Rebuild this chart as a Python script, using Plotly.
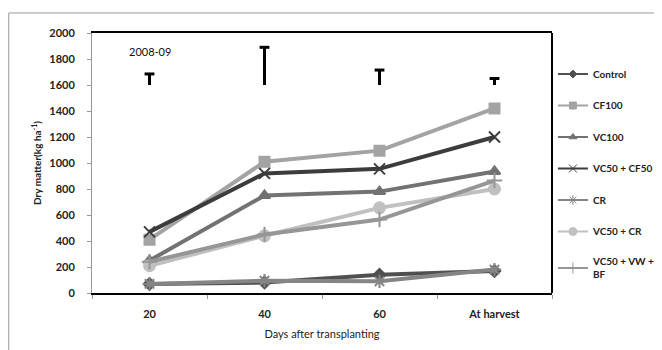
import plotly.graph_objects as go

categories = ["20", "40", "60", "At harvest"]

control = [70, 80, 140, 170]
cf100 = [410, 1010, 1095, 1420]
vc100 = [250, 750, 780, 935]
vc50_cf50 = [470, 920, 955, 1200]
cr = [70, 95, 90, 180]
vc50_cr = [210, 440, 655, 800]
vc50_vw_bf = [240, 450, 565, 865]

lsd_base = [1600, 1600, 1600, 1600]
lsd_len = [85, 290, 115, 50]

series = [
    ("Control", control, "#505050", "diamond", 9),
    ("CF100", cf100, "#a3a3a3", "square", 10),
    ("VC100", vc100, "#727272", "triangle-up", 10),
    ("VC50 + CF50", vc50_cf50, "#3c3c3c", "x-thin-open", 11),
    ("CR", cr, "#858585", "asterisk-open", 11),
    ("VC50 + CR", vc50_cr, "#c0c0c0", "circle", 11),
    ("VC50 + VW +<br>BF", vc50_vw_bf, "#969696", "cross-thin-open", 11),
]

FONT = "Lato"

fig = go.Figure()
for i, (name, vals, col, sym, sz) in enumerate(series):
    fig.add_trace(go.Scatter(
        x=categories, y=vals, name=name, mode="lines+markers", showlegend=False,
        line=dict(color=col, width=4),
        marker=dict(symbol=sym, size=sz, color=col, line=dict(color=col, width=2)),
    ))
# legend entries (thinner style as in the reference legend)
for i, (name, vals, col, sym, sz) in enumerate(series):
    fig.add_trace(go.Scatter(
        x=[None], y=[None], name=name, mode="lines+markers",
        legendgroup=f"g{i}",
        line=dict(color=col, width=2),
        marker=dict(symbol=sym, size=max(sz - 3, 6), color=col, line=dict(color=col, width=1)),
    ))

# LSD bars
bx, by = [], []
for c, b, l in zip(categories, lsd_base, lsd_len):
    bx += [c, c, None]
    by += [b, b + l, None]
fig.add_trace(go.Scatter(x=bx, y=by, mode="lines", line=dict(color="black", width=3),
                         showlegend=False, hoverinfo="skip"))
fig.add_trace(go.Scatter(x=categories, y=[b + l for b, l in zip(lsd_base, lsd_len)],
                         mode="markers", marker=dict(symbol="line-ew", size=7,
                         line=dict(color="black", width=3)),
                         showlegend=False, hoverinfo="skip"))

fig.add_annotation(x=0, y=1860, text="2008-09", showarrow=False,
                   font=dict(family=FONT, size=11, color="#111"))

fig.update_layout(
    width=662, height=350,
    margin=dict(l=84, r=118, t=25, b=65, autoexpand=False),
    paper_bgcolor="white", plot_bgcolor="white",
    font=dict(family=FONT, color="#222"),
    legend=dict(x=1.002, y=0.898, xanchor="left", yanchor="top",
                font=dict(family=FONT, size=10, color="#222", weight="bold"),
                tracegroupgap=12.5, itemwidth=30, bgcolor="rgba(0,0,0,0)"),
    xaxis=dict(type="category", categoryorder="array", categoryarray=categories,
               range=[-0.5, 3.5], showline=True, linecolor="black", linewidth=2,
               mirror=True, ticks="outside", tickson="boundaries", ticklen=4,
               tickcolor="#999", showgrid=False, automargin=False,
               tickfont=dict(family=FONT, size=11, color="#222", weight="bold"),
               ticklabelstandoff=10,
               title=dict(text="Days after transplanting", standoff=11,
                          font=dict(family=FONT, size=11, color="#222"))),
    yaxis=dict(range=[0, 2000], dtick=200, showline=True, linecolor="#999", linewidth=1,
               ticks="outside", ticklen=4, tickcolor="#999", showgrid=False, zeroline=False,
               automargin=False,
               tickfont=dict(family=FONT, size=11, color="#222", weight="bold"),
               ticklabelstandoff=10,
               title=dict(text="Dry matter(kg ha<sup>-1</sup>)", standoff=5,
                          font=dict(family=FONT, size=10, color="#222", weight="bold"))),
    shapes=[
        dict(type="line", xref="paper", yref="paper", x0=1, x1=1, y0=0, y1=1,
             line=dict(color="black", width=2)),
        dict(type="line", xref="paper", yref="paper", x0=-0.181, x1=1.3, y0=1.077, y1=1.077,
             line=dict(color="#999", width=1)),
        dict(type="line", xref="paper", yref="paper", x0=-0.181, x1=-0.181, y0=-0.3, y1=1.077,
             line=dict(color="#999", width=1)),
    ],
)

fig.write_html("out.html")
